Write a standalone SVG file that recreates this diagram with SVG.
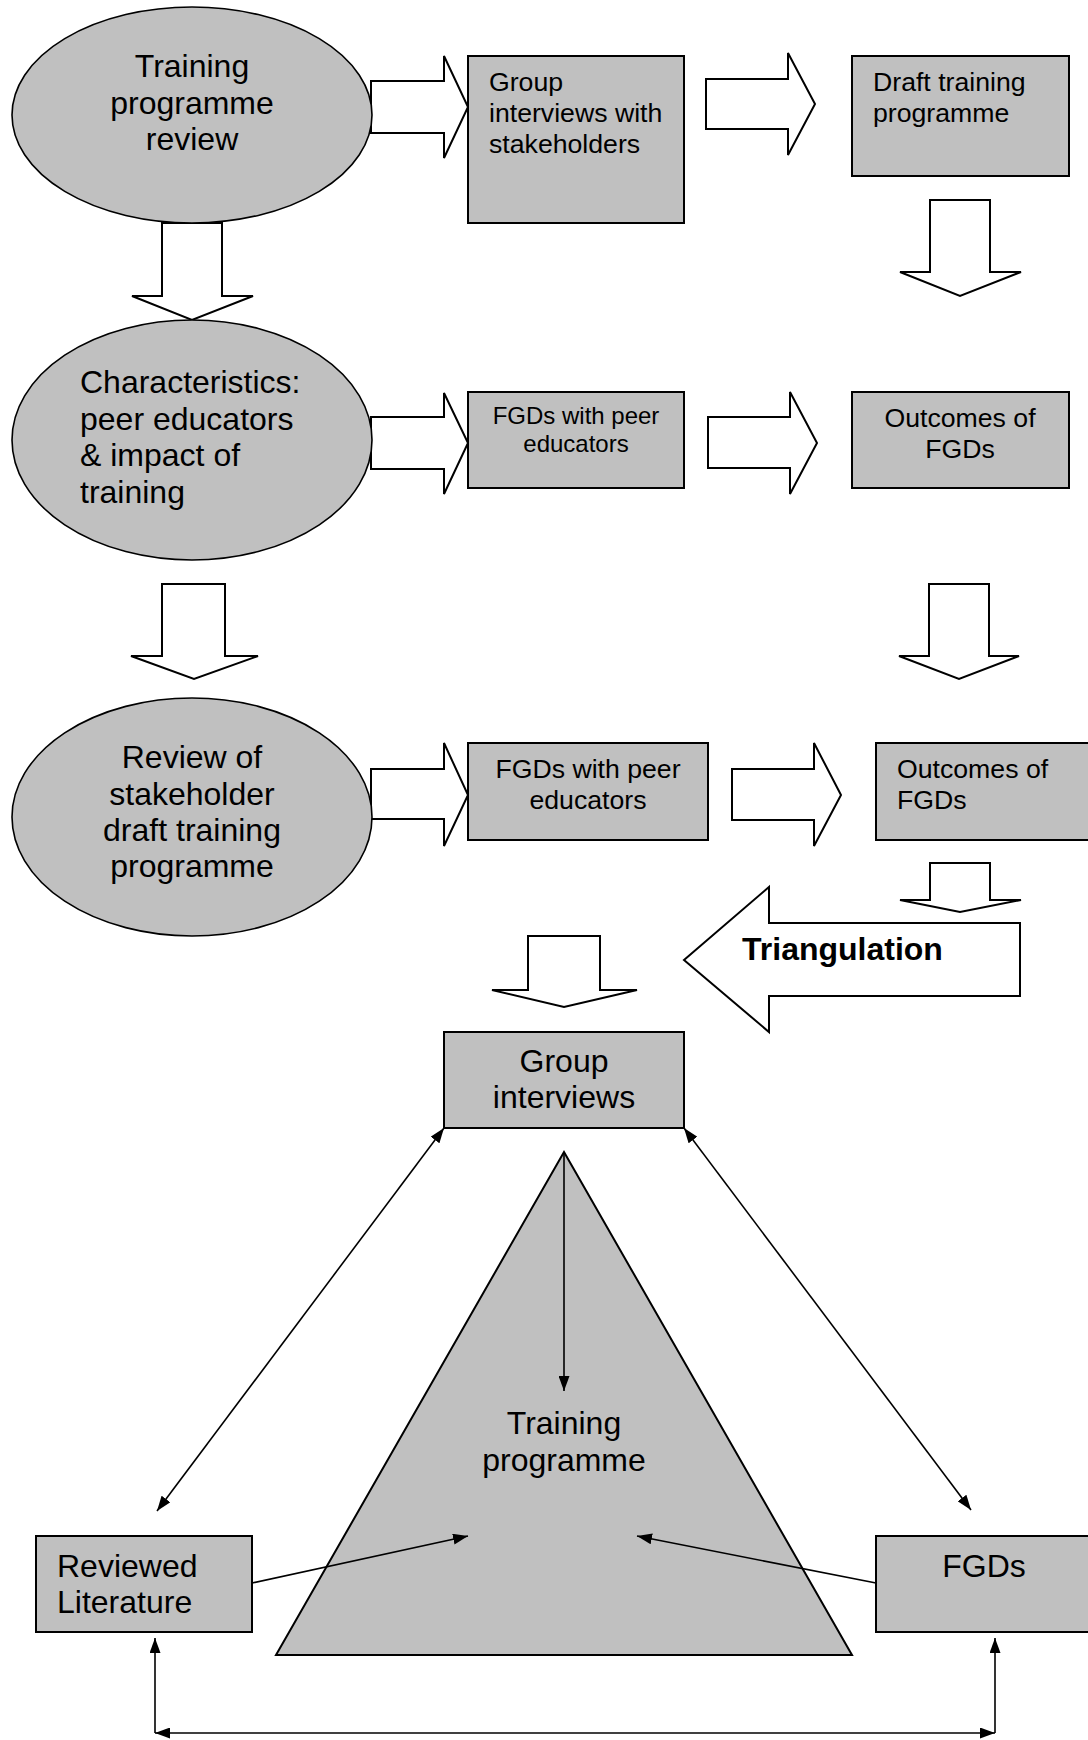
<svg xmlns="http://www.w3.org/2000/svg" width="1088" height="1740" viewBox="0 0 1088 1740">
<defs>
<style>
.node{fill:#c0c0c0;stroke:#000;stroke-width:2}
.ell{fill:#c0c0c0;stroke:#000;stroke-width:1.6}
.blk{fill:#fff;stroke:#000;stroke-width:2;stroke-linejoin:miter}
.ln{fill:none;stroke:#000;stroke-width:1.6}
.t{font-family:"Liberation Sans",Arial,sans-serif;fill:#000}
.big{font-size:32px}
.mid{font-size:26.67px}
.sm{font-size:24px}
.c{text-anchor:middle}
.b{font-weight:bold}
</style>
<marker id="ah" viewBox="0 0 15 11" refX="15" refY="5.5" markerWidth="15" markerHeight="11" markerUnits="userSpaceOnUse" orient="auto-start-reverse">
<path d="M0,0 L15,5.5 L0,11 Z" fill="#000"/>
</marker>
</defs>
<rect width="1088" height="1740" fill="#fff"/>

<g id="training-programme">
<polygon class="node" points="564,1152 852,1655 276,1655"/>
<text class="t big c" x="564" y="1434">Training</text>
<text class="t big c" x="564" y="1471">programme</text>
</g>

<g id="connectors">
<polygon class="blk" points="371,81 444,81 444,56 468,107 444,158 444,133 371,133"/>
<polygon class="blk" points="706,79 788,79 788,53 815,104 788,155 788,129 706,129"/>
<polygon class="blk" points="162,223 222,223 222,296 253,296 192,320 132,296 162,296"/>
<polygon class="blk" points="930,200 990,200 990,272 1021,272 960,296 900,272 930,272"/>
<polygon class="blk" points="371,417 444,417 444,393 468,443 444,494 444,469 371,469"/>
<polygon class="blk" points="708,417 790,417 790,392 817,443 790,494 790,468 708,468"/>
<polygon class="blk" points="162,584 225,584 225,656 258,656 194,679 131,656 162,656"/>
<polygon class="blk" points="929,584 989,584 989,656 1019,656 959,679 899,656 929,656"/>
<polygon class="blk" points="371,769 444,769 444,743 468,795 444,846 444,819 371,819"/>
<polygon class="blk" points="732,769 814,769 814,743 841,795 814,846 814,820 732,820"/>
<polygon class="blk" points="930,863 990,863 990,900 1021,900 960,912 900,900 930,900"/>
<polygon class="blk" points="528,936 600,936 600,990 637,990 564,1007 492,990 528,990"/>
<g id="triangulation">
<polygon class="blk" points="1020,923 769,923 769,887 684,960 769,1032 769,996 1020,996"/>
<text class="t big b" x="742" y="960">Triangulation</text>
</g>
<line class="ln" x1="444" y1="1128" x2="157" y2="1511" marker-start="url(#ah)" marker-end="url(#ah)"/>
<line class="ln" x1="684" y1="1128" x2="971" y2="1510" marker-start="url(#ah)" marker-end="url(#ah)"/>
<line class="ln" x1="564" y1="1152" x2="564" y2="1391" marker-end="url(#ah)"/>
<line class="ln" x1="252" y1="1583" x2="468" y2="1536" marker-end="url(#ah)"/>
<line class="ln" x1="876" y1="1583" x2="637" y2="1536" marker-end="url(#ah)"/>
<line class="ln" x1="155" y1="1733" x2="155" y2="1638" marker-end="url(#ah)"/>
<line class="ln" x1="995" y1="1733" x2="995" y2="1638" marker-end="url(#ah)"/>
<line class="ln" x1="155" y1="1733" x2="995" y2="1733" marker-start="url(#ah)" marker-end="url(#ah)"/>
</g>

<g id="training-programme-review">
<ellipse class="ell" cx="192" cy="115" rx="180" ry="108"/>
<text class="t big c" x="192" y="77">Training</text>
<text class="t big c" x="192" y="114">programme</text>
<text class="t big c" x="192" y="150">review</text>
</g>
<g id="group-interviews-stakeholders">
<rect class="node" x="468" y="56" width="216" height="167"/>
<text class="t mid" x="489" y="91">Group</text>
<text class="t mid" x="489" y="122">interviews with</text>
<text class="t mid" x="489" y="153">stakeholders</text>
</g>
<g id="draft-training-programme">
<rect class="node" x="852" y="56" width="217" height="120"/>
<text class="t mid" x="873" y="91">Draft training</text>
<text class="t mid" x="873" y="122">programme</text>
</g>

<g id="characteristics">
<ellipse class="ell" cx="192" cy="440" rx="180" ry="120"/>
<text class="t big" x="80" y="393">Characteristics:</text>
<text class="t big" x="80" y="430">peer educators</text>
<text class="t big" x="80" y="466">&amp; impact of</text>
<text class="t big" x="80" y="503">training</text>
</g>
<g id="fgds-peer-1">
<rect class="node" x="468" y="392" width="216" height="96"/>
<text class="t sm c" x="576" y="424">FGDs with peer</text>
<text class="t sm c" x="576" y="452">educators</text>
</g>
<g id="outcomes-1">
<rect class="node" x="852" y="392" width="217" height="96"/>
<text class="t mid c" x="960" y="427">Outcomes of</text>
<text class="t mid c" x="960" y="458">FGDs</text>
</g>

<g id="review-stakeholder-draft">
<ellipse class="ell" cx="192" cy="817" rx="180" ry="119"/>
<text class="t big c" x="192" y="768">Review of</text>
<text class="t big c" x="192" y="805">stakeholder</text>
<text class="t big c" x="192" y="841">draft training</text>
<text class="t big c" x="192" y="877">programme</text>
</g>
<g id="fgds-peer-2">
<rect class="node" x="468" y="743" width="240" height="97"/>
<text class="t mid c" x="588" y="778">FGDs with peer</text>
<text class="t mid c" x="588" y="809">educators</text>
</g>
<g id="outcomes-2">
<rect class="node" x="876" y="743" width="230" height="97"/>
<text class="t mid" x="897" y="778">Outcomes of</text>
<text class="t mid" x="897" y="809">FGDs</text>
</g>

<g id="group-interviews">
<rect class="node" x="444" y="1032" width="240" height="96"/>
<text class="t big c" x="564" y="1072">Group</text>
<text class="t big c" x="564" y="1108">interviews</text>
</g>
<g id="reviewed-literature">
<rect class="node" x="36" y="1536" width="216" height="96"/>
<text class="t big" x="57" y="1577">Reviewed</text>
<text class="t big" x="57" y="1613">Literature</text>
</g>
<g id="fgds">
<rect class="node" x="876" y="1536" width="230" height="96"/>
<text class="t big c" x="984" y="1577">FGDs</text>
</g>
</svg>
